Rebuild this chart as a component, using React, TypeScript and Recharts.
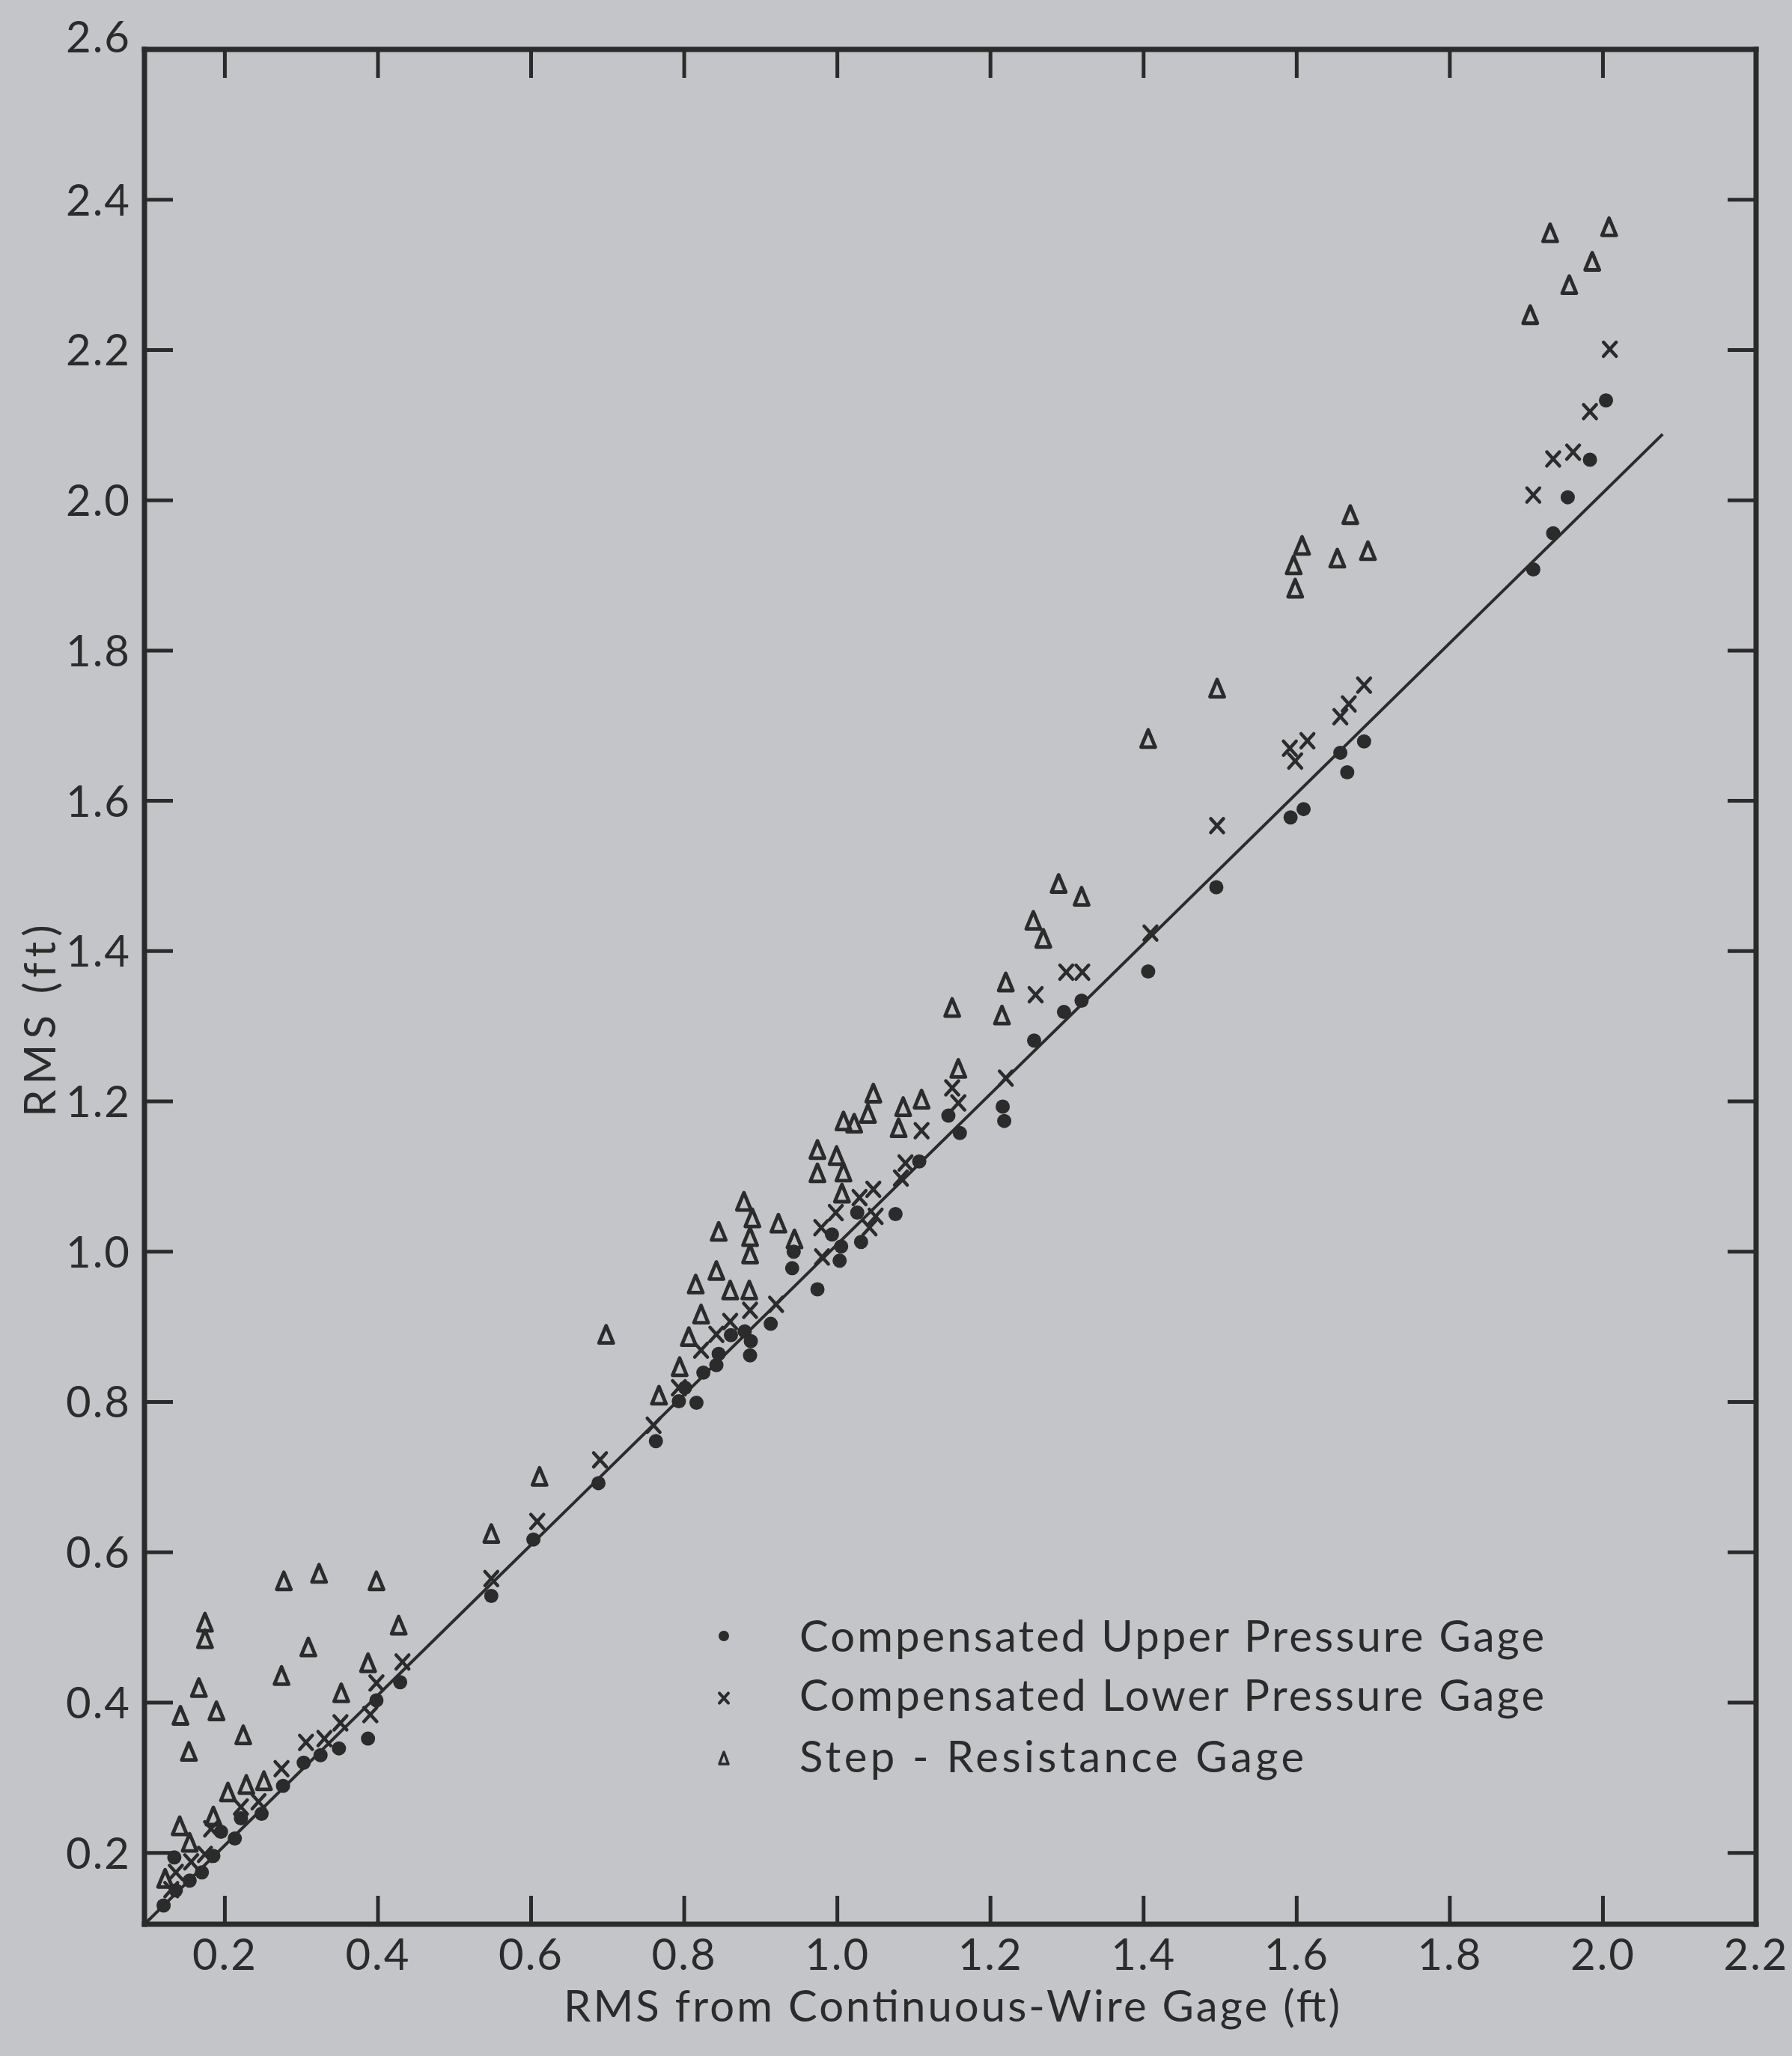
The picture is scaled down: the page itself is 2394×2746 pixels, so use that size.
import React from "react";
import { ScatterChart, Scatter, XAxis, YAxis, Legend, Label } from "recharts";

// page size of the scanned figure
const W = 2394;
const H = 2746;
const INK = "#2b2b2b";
const PAPER = "#c4c5c8";
const FONT = "Lato, 'Liberation Sans', sans-serif";

// axis ticks
const xTicks = [0.2, 0.4, 0.6, 0.8, 1.0, 1.2, 1.4, 1.6, 1.8, 2.0, 2.2];
const yTicks = [0.2, 0.4, 0.6, 0.8, 1.0, 1.2, 1.4, 1.6, 1.8, 2.0, 2.2, 2.4, 2.6];
const xDomain = [0.095, 2.2];
const yDomain = [0.105, 2.6];

// 45-degree reference line (end points)
const lineX = [0.097, 2.078];
const lineY = [0.107, 2.088];

// Compensated Upper Pressure Gage (dots)
const upperPressure: [number, number][] = [
  [0.12, 0.13], [0.136, 0.15], [0.134, 0.194], [0.154, 0.163], [0.17, 0.174],
  [0.185, 0.196], [0.195, 0.228], [0.213, 0.219], [0.221, 0.246], [0.248, 0.252],
  [0.276, 0.289], [0.303, 0.32], [0.325, 0.33], [0.349, 0.339], [0.387, 0.352],
  [0.398, 0.403], [0.429, 0.427], [0.548, 0.542], [0.603, 0.617], [0.688, 0.692],
  [0.763, 0.748], [0.793, 0.801], [0.801, 0.819], [0.816, 0.799], [0.825, 0.839],
  [0.842, 0.849], [0.845, 0.864], [0.861, 0.889], [0.879, 0.894], [0.887, 0.881],
  [0.886, 0.862], [0.913, 0.904], [0.941, 0.978], [0.943, 1.0], [0.974, 0.95],
  [0.993, 1.023], [1.005, 1.007], [1.003, 0.988], [1.026, 1.052], [1.031, 1.013],
  [1.076, 1.05], [1.107, 1.12], [1.145, 1.181], [1.16, 1.158], [1.216, 1.193],
  [1.218, 1.174], [1.257, 1.281], [1.296, 1.319], [1.319, 1.334], [1.406, 1.373],
  [1.495, 1.485], [1.592, 1.578], [1.609, 1.589], [1.657, 1.664], [1.666, 1.638],
  [1.688, 1.679], [1.909, 1.908], [1.935, 1.956], [1.954, 2.004], [1.983, 2.054],
  [2.004, 2.133],
];

// Compensated Lower Pressure Gage (crosses)
const lowerPressure: [number, number][] = [
  [0.13, 0.151], [0.136, 0.174], [0.156, 0.188], [0.174, 0.198], [0.182, 0.232],
  [0.221, 0.261], [0.244, 0.268], [0.274, 0.312], [0.306, 0.347], [0.33, 0.352],
  [0.351, 0.373], [0.39, 0.384], [0.398, 0.426], [0.432, 0.454], [0.548, 0.565],
  [0.608, 0.641], [0.69, 0.723], [0.76, 0.769], [0.793, 0.819], [0.822, 0.869],
  [0.842, 0.89], [0.86, 0.907], [0.886, 0.922], [0.92, 0.93], [0.98, 0.993],
  [0.979, 1.032], [0.998, 1.052], [1.029, 1.072], [1.047, 1.083], [1.042, 1.032],
  [1.05, 1.047], [1.083, 1.098], [1.089, 1.118], [1.11, 1.161], [1.15, 1.218],
  [1.158, 1.198], [1.22, 1.231], [1.259, 1.342], [1.299, 1.372], [1.32, 1.372],
  [1.409, 1.424], [1.496, 1.567], [1.591, 1.67], [1.598, 1.653], [1.614, 1.68],
  [1.657, 1.712], [1.668, 1.729], [1.688, 1.754], [1.909, 2.007], [1.935, 2.055],
  [1.961, 2.064], [1.983, 2.118], [2.009, 2.201],
];

// Step-Resistance Gage (triangles)
const stepResistance: [number, number][] = [
  [0.122, 0.166], [0.141, 0.236], [0.154, 0.214], [0.185, 0.249], [0.204, 0.281],
  [0.228, 0.291], [0.251, 0.296], [0.142, 0.383], [0.153, 0.335], [0.166, 0.42],
  [0.189, 0.389], [0.224, 0.357], [0.352, 0.413], [0.274, 0.436], [0.387, 0.453],
  [0.309, 0.474], [0.427, 0.503], [0.174, 0.485], [0.174, 0.507], [0.277, 0.562],
  [0.323, 0.572], [0.398, 0.562], [0.548, 0.625], [0.611, 0.701], [0.698, 0.89],
  [0.767, 0.809], [0.794, 0.847], [0.806, 0.887], [0.822, 0.917], [0.815, 0.957],
  [0.842, 0.975], [0.86, 0.949], [0.885, 0.949], [0.845, 1.027], [0.886, 0.997],
  [0.886, 1.02], [0.889, 1.045], [0.878, 1.067], [0.923, 1.038], [0.944, 1.017],
  [0.974, 1.105], [1.008, 1.106], [1.006, 1.078], [0.974, 1.136], [0.999, 1.128],
  [1.008, 1.174], [1.022, 1.171], [1.04, 1.184], [1.047, 1.211], [1.08, 1.165],
  [1.086, 1.193], [1.11, 1.203], [1.158, 1.244], [1.15, 1.325], [1.215, 1.315],
  [1.22, 1.359], [1.256, 1.441], [1.269, 1.417], [1.289, 1.49], [1.319, 1.473],
  [1.406, 1.683], [1.496, 1.75], [1.596, 1.914], [1.598, 1.883], [1.607, 1.94],
  [1.653, 1.923], [1.67, 1.981], [1.693, 1.933], [1.905, 2.247], [1.931, 2.356],
  [1.956, 2.287], [1.986, 2.318], [2.008, 2.364],
];

const legendLabels = [
  "Compensated Upper Pressure Gage",
  "Compensated Lower Pressure Gage",
  "Step - Resistance Gage",
];
const legendWidths = [995, 995, 674];

const toPoints = (pairs: [number, number][]) => pairs.map(([x, y]) => ({ x, y }));
const lineData = lineX.map((x, i) => ({ x, y: lineY[i] }));

const TICK = 38;
const TICK_W = 5;
const FRAME_W = 7;
const FS = 58;

// marker shapes
function Dot({ cx, cy }: any) {
  return <circle cx={cx} cy={cy} r={9.5} fill={INK} />;
}

function Cross({ cx, cy, s = 8.5, sw = 4.5 }: any) {
  return (
    <g stroke={INK} strokeWidth={sw} strokeLinecap="round">
      <line x1={cx - s} y1={cy - s * 1.1} x2={cx + s} y2={cy + s * 1.1} />
      <line x1={cx + s} y1={cy - s * 1.1} x2={cx - s} y2={cy + s * 1.1} />
    </g>
  );
}

function Triangle({ cx, cy, w = 9.5, h = 11.5, sw = 4.8 }: any) {
  return (
    <path
      d={`M${cx},${cy - h} L${cx + w},${cy + h} L${cx - w},${cy + h} Z`}
      fill="none"
      stroke={INK}
      strokeWidth={sw}
      strokeLinejoin="round"
    />
  );
}

const fmt = (v: number) => v.toFixed(1);

function BottomTick({ x, y, payload }: any) {
  const v = payload.value;
  return (
    <g>
      {v < 2.15 && <line x1={x} y1={y} x2={x} y2={y - TICK} stroke={INK} strokeWidth={TICK_W} />}
      <text x={x} y={y + 61} textAnchor="middle" fontSize={FS} fontFamily={FONT} fill={INK} letterSpacing={2}>
        {fmt(v)}
      </text>
    </g>
  );
}

function TopTick({ x, y, payload }: any) {
  if (payload.value > 2.15) return <g />;
  return <line x1={x} y1={y} x2={x} y2={y + TICK} stroke={INK} strokeWidth={TICK_W} />;
}

function LeftTick({ x, y, payload }: any) {
  const v = payload.value;
  return (
    <g>
      {v < 2.55 && <line x1={x} y1={y} x2={x + TICK} y2={y} stroke={INK} strokeWidth={TICK_W} />}
      <text x={x - 18} y={v > 2.55 ? y + 4 : y + 21} textAnchor="end" fontSize={FS} fontFamily={FONT} fill={INK} letterSpacing={2}>
        {fmt(v)}
      </text>
    </g>
  );
}

function RightTick({ x, y, payload }: any) {
  if (payload.value > 2.55) return <g />;
  return <line x1={x} y1={y} x2={x - TICK} y2={y} stroke={INK} strokeWidth={TICK_W} />;
}

function XTitle() {
  return (
    <text x={753} y={2700} textLength={1037} lengthAdjust="spacing" fontSize={FS} fontFamily={FONT} fill={INK}>
      RMS from Continuous-Wire Gage (ft)
    </text>
  );
}

function YTitle() {
  return (
    <text
      x={0}
      y={0}
      transform="translate(74,1360) rotate(-90)"
      textAnchor="middle"
      fontSize={FS}
      fontFamily={FONT}
      fill={INK}
      letterSpacing={7}
    >
      RMS (ft)
    </text>
  );
}

function LegendBox() {
  const rows = [45, 124, 206];
  return (
    <svg width={1200} height={260} style={{ overflow: "visible" }}>
      {rows.map((cy, i) => (
        <g key={i}>
          {i === 0 && <circle cx={37} cy={cy} r={7} fill={INK} />}
          {i === 1 && <Cross cx={37} cy={cy + 4} s={6} sw={4} />}
          {i === 2 && <Triangle cx={37} cy={cy + 2} w={6} h={8} sw={3.5} />}
          <text
            x={138}
            y={cy + 21}
            textLength={legendWidths[i]}
            lengthAdjust="spacing"
            fontSize={FS}
            fontFamily={FONT}
            fill={INK}
          >
            {legendLabels[i]}
          </text>
        </g>
      ))}
    </svg>
  );
}

const frameLine = { stroke: INK, strokeWidth: FRAME_W, strokeLinecap: "square" as const };

export default function App() {
  return (
    <div style={{ position: "absolute", left: 0, top: 0, width: W, height: H, background: PAPER }}>
      <ScatterChart width={W} height={H} margin={{ top: 26, right: 8, bottom: 136, left: 153 }}>
        <XAxis
          xAxisId="bottom"
          dataKey="x"
          type="number"
          domain={xDomain}
          ticks={xTicks}
          interval={0}
          allowDataOverflow
          height={40}
          tickSize={0}
          tickMargin={0}
          axisLine={frameLine}
          tickLine={false}
          tick={<BottomTick />}
        >
          <Label content={<XTitle />} />
        </XAxis>
        <XAxis
          xAxisId="top"
          orientation="top"
          dataKey="x"
          type="number"
          domain={xDomain}
          ticks={xTicks}
          interval={0}
          allowDataOverflow
          height={40}
          tickSize={0}
          tickMargin={0}
          axisLine={frameLine}
          tickLine={false}
          tick={<TopTick />}
        />
        <YAxis
          yAxisId="left"
          dataKey="y"
          type="number"
          domain={yDomain}
          ticks={yTicks}
          interval={0}
          allowDataOverflow
          width={40}
          tickSize={0}
          tickMargin={0}
          axisLine={frameLine}
          tickLine={false}
          tick={<LeftTick />}
        >
          <Label content={<YTitle />} />
        </YAxis>
        <YAxis
          yAxisId="right"
          orientation="right"
          dataKey="y"
          type="number"
          domain={yDomain}
          ticks={yTicks}
          interval={0}
          allowDataOverflow
          width={40}
          tickSize={0}
          tickMargin={0}
          axisLine={frameLine}
          tickLine={false}
          tick={<RightTick />}
        />
        <Scatter
          name="line"
          xAxisId="top"
          yAxisId="right"
          data={lineData}
          line={{ stroke: INK, strokeWidth: 4 }}
          shape={() => <g />}
          legendType="none"
          isAnimationActive={false}
        />
        <Scatter
          name="Step - Resistance Gage"
          xAxisId="bottom"
          yAxisId="left"
          data={toPoints(stepResistance)}
          shape={(p: any) => <Triangle cx={p.cx} cy={p.cy} />}
          isAnimationActive={false}
        />
        <Scatter
          name="Compensated Lower Pressure Gage"
          xAxisId="bottom"
          yAxisId="left"
          data={toPoints(lowerPressure)}
          shape={(p: any) => <Cross cx={p.cx} cy={p.cy} />}
          isAnimationActive={false}
        />
        <Scatter
          name="Compensated Upper Pressure Gage"
          xAxisId="bottom"
          yAxisId="left"
          data={toPoints(upperPressure)}
          shape={(p: any) => <Dot cx={p.cx} cy={p.cy} />}
          isAnimationActive={false}
        />
        <Legend
          layout="horizontal"
          verticalAlign="middle"
          align="center"
          content={() => <LegendBox />}
          wrapperStyle={{ position: "absolute", left: 930, top: 2140, width: 1200, height: 260 }}
        />
      </ScatterChart>
    </div>
  );
}
